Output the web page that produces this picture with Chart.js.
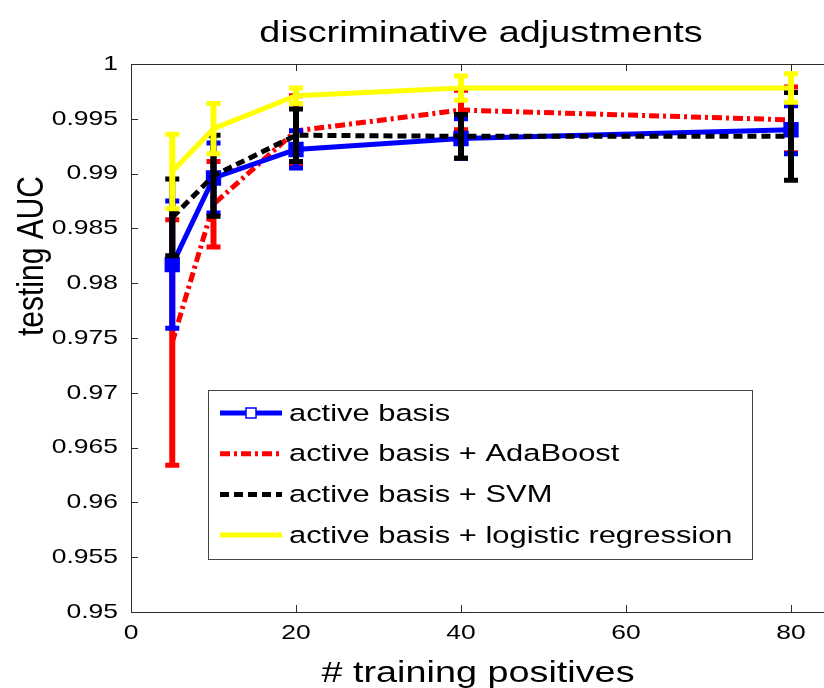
<!DOCTYPE html>
<html>
<head>
<meta charset="utf-8">
<script src="https://cdn.jsdelivr.net/npm/chart.js@4.4.0/dist/chart.umd.min.js"></script>
<style>
  html, body { margin: 0; padding: 0; background: #fff; }
</style>
</head>
<body>
<canvas id="myChart" width="824" height="688"></canvas>
<script>
// number of training positives
const positives = [5, 10, 20, 40, 80];

const seriesNames = [
    'active basis',
    'active basis + AdaBoost',
    'active basis + SVM',
    'active basis + logistic regression',
];

// testing AUC, means and half error bars
const activeBasis = [0.9817, 0.9896, 0.9922, 0.9932, 0.9940];
const activeBasisErr = [0.0058, 0.0032, 0.0017, 0.0018, 0.0022];
const adaBoost = [0.9746, 0.9872, 0.9939, 0.9958, 0.9949];
const adaBoostErr = [0.0112, 0.0039, 0.0032, 0.0018, 0.0030];
const svm = [0.9860, 0.9898, 0.9935, 0.9934, 0.9934];
const svmErr = [0.0035, 0.0037, 0.0024, 0.0020, 0.0040];
const logistic = [0.9902, 0.9941, 0.9971, 0.9978, 0.9978];
const logisticErr = [0.0034, 0.0023, 0.0007, 0.0011, 0.0013];

const xTicks = [0, 20, 40, 60, 80];
const xTickLabels = ['0', '20', '40', '60', '80'];
const yTicks = [0.95, 0.955, 0.96, 0.965, 0.97, 0.975, 0.98, 0.985, 0.99, 0.995, 1];
const yTickLabels = ['0.95', '0.955', '0.96', '0.965', '0.97', '0.975', '0.98', '0.985', '0.99', '0.995', '1'];

const STRETCH = 1.26; // the picture is a bit wide, so text is too
const FONT = '"Liberation Sans", Arial, sans-serif';

function toPoints(vals) {
    return vals.map((v, i) => ({ x: positives[i], y: v }));
}

function text(ctx, str, x, y, size, align, baseline, rot) {
    ctx.save();
    ctx.translate(x, y);
    ctx.scale(STRETCH, 1);
    if (rot) ctx.rotate(rot);
    ctx.font = size + 'px ' + FONT;
    ctx.textAlign = align;
    ctx.textBaseline = baseline;
    ctx.fillStyle = '#000';
    ctx.fillText(str, 0, 0);
    ctx.restore();
}

const errorBars = {
    id: 'errorBars',
    afterDatasetDraw(chart, args) {
        const ds = chart.data.datasets[args.index];
        const xs = chart.scales.x;
        const ys = chart.scales.y;
        const ctx = chart.ctx;
        ctx.save();
        ctx.strokeStyle = ds.borderColor;
        ctx.setLineDash([]);
        ds.data.forEach((p, i) => {
            const e = ds.errors[i];
            const px = xs.getPixelForValue(p.x);
            const top = ys.getPixelForValue(p.y + e);
            const bot = ys.getPixelForValue(p.y - e);
            ctx.lineWidth = 6;
            ctx.beginPath();
            ctx.moveTo(px, top);
            ctx.lineTo(px, bot);
            ctx.stroke();
            ctx.lineWidth = 5;
            ctx.beginPath();
            ctx.moveTo(px - 7, top);
            ctx.lineTo(px + 7, top);
            ctx.moveTo(px - 7, bot);
            ctx.lineTo(px + 7, bot);
            ctx.stroke();
        });
        ctx.restore();
    },
};

const axesAndLabels = {
    id: 'axesAndLabels',
    afterDraw(chart) {
        const ctx = chart.ctx;
        const a = chart.chartArea;
        const xs = chart.scales.x;
        const ys = chart.scales.y;

        // box and inward ticks
        ctx.save();
        ctx.strokeStyle = '#2b2b2b';
        ctx.lineWidth = 1;
        ctx.beginPath();
        ctx.moveTo(a.left + 0.5, a.top + 0.5);
        ctx.lineTo(a.right, a.top + 0.5);
        ctx.moveTo(a.left + 0.5, a.top + 0.5);
        ctx.lineTo(a.left + 0.5, a.bottom + 0.5);
        ctx.lineTo(a.right, a.bottom + 0.5);
        xTicks.forEach((t) => {
            const px = Math.round(xs.getPixelForValue(t)) + 0.5;
            ctx.moveTo(px, a.bottom);
            ctx.lineTo(px, a.bottom - 7);
            ctx.moveTo(px, a.top);
            ctx.lineTo(px, a.top + 7);
        });
        yTicks.forEach((t) => {
            const py = Math.round(ys.getPixelForValue(t)) + 0.5;
            ctx.moveTo(a.left, py);
            ctx.lineTo(a.left + 7, py);
        });
        ctx.stroke();
        ctx.restore();

        xTicks.forEach((t, i) => {
            text(ctx, xTickLabels[i], xs.getPixelForValue(t), 633, 21, 'center', 'middle');
        });
        yTicks.forEach((t, i) => {
            text(ctx, yTickLabels[i], 118, ys.getPixelForValue(t), 21, 'right', 'middle');
        });

        text(ctx, 'discriminative adjustments', 481, 42, 30, 'center', 'alphabetic');
        text(ctx, '# training positives', 478, 682, 30, 'center', 'alphabetic');
        text(ctx, 'testing AUC', 43, 256, 30, 'center', 'alphabetic', -Math.PI / 2);

        // legend
        const lx = 208, ly = 390, lw = 544, lh = 169;
        ctx.save();
        ctx.fillStyle = '#fff';
        ctx.fillRect(lx, ly, lw, lh);
        ctx.strokeStyle = '#444';
        ctx.lineWidth = 1;
        ctx.strokeRect(lx + 0.5, ly + 0.5, lw, lh);
        chart.data.datasets.forEach((ds, i) => {
            const y = 413 + i * 40.7;
            ctx.save();
            ctx.strokeStyle = ds.borderColor;
            ctx.lineWidth = ds.borderWidth;
            ctx.setLineDash(ds.borderDash || []);
            ctx.beginPath();
            ctx.moveTo(220, y);
            ctx.lineTo(282, y);
            ctx.stroke();
            if (ds.pointRadius > 0) {
                ctx.setLineDash([]);
                ctx.fillStyle = '#fff';
                ctx.fillRect(246, y - 5, 10, 10);
                ctx.lineWidth = 1.5;
                ctx.strokeRect(246, y - 5, 10, 10);
            }
            ctx.restore();
            text(ctx, ds.label, 289, y + 1, 24.5, 'left', 'middle');
        });
        ctx.restore();
    },
};

const datasets = [
    {
        label: seriesNames[0],
        data: toPoints(activeBasis),
        errors: activeBasisErr,
        borderColor: '#0000ff',
        borderWidth: 5,
        pointStyle: 'rect',
        pointRadius: 8,
        pointBorderWidth: 4,
        pointBackgroundColor: '#0000ff',
        pointBorderColor: '#0000ff',
        order: 3,
    },
    {
        label: seriesNames[1],
        data: toPoints(adaBoost),
        errors: adaBoostErr,
        borderColor: '#ff0000',
        borderWidth: 5,
        borderDash: [10, 4, 3, 4],
        pointRadius: 0,
        order: 4,
    },
    {
        label: seriesNames[2],
        data: toPoints(svm),
        errors: svmErr,
        borderColor: '#000000',
        borderWidth: 5,
        borderDash: [9, 5],
        pointRadius: 0,
        order: 2,
    },
    {
        label: seriesNames[3],
        data: toPoints(logistic),
        errors: logisticErr,
        borderColor: '#ffff00',
        borderWidth: 5,
        pointRadius: 0,
        order: 1,
    },
];

const config = {
    type: 'line',
    data: { datasets: datasets },
    options: {
        responsive: false,
        animation: false,
        layout: {
            autoPadding: false,
            padding: { left: 131, top: 64, right: 0, bottom: 76 },
        },
        elements: { line: { tension: 0, fill: false } },
        scales: {
            x: { type: 'linear', min: 0, max: 84, display: false },
            y: { type: 'linear', min: 0.95, max: 1, display: false },
        },
        plugins: {
            legend: { display: false },
            title: { display: false },
            tooltip: { enabled: false },
        },
    },
    plugins: [errorBars, axesAndLabels],
};

const myChart = new Chart(document.getElementById('myChart'), config);
</script>
</body>
</html>
